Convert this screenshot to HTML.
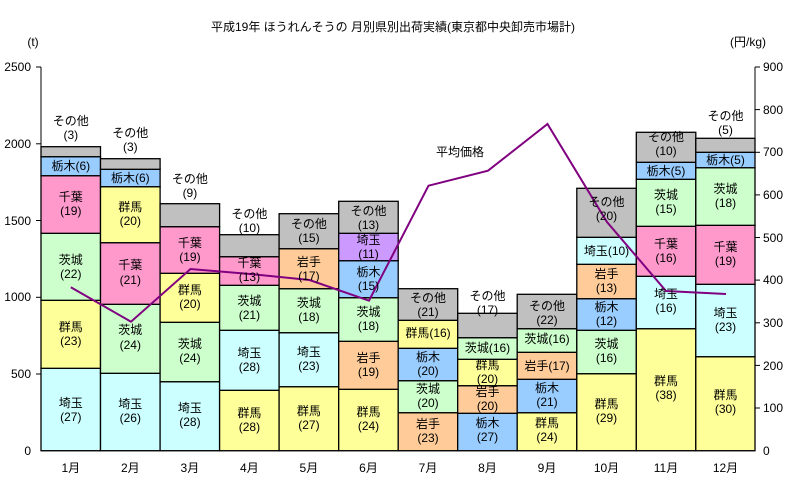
<!DOCTYPE html><html><head><meta charset="utf-8"><style>html,body{margin:0;padding:0;background:#fff}svg{display:block}text{font-family:"Liberation Sans","Noto Sans CJK JP",sans-serif;font-size:12px;fill:#000}</style></head><body>
<svg width="791" height="487" viewBox="0 0 791 487" xmlns="http://www.w3.org/2000/svg">
<text x="393" y="31" text-anchor="middle" font-size="13">平成19年  ほうれんそうの 月別県別出荷実績(東京都中央卸売市場計)</text>
<text x="33" y="46" text-anchor="middle" font-size="11">(t)</text>
<text x="748" y="46" text-anchor="middle" font-size="11">(円/kg)</text>
<g font-size="11" text-anchor="end">
<text x="31" y="455">0</text><text x="31" y="378">500</text><text x="31" y="301">1000</text><text x="31" y="225">1500</text><text x="31" y="148">2000</text><text x="31" y="71">2500</text></g>
<g font-size="11">
<text x="763" y="455">0</text><text x="763" y="412">100</text><text x="763" y="370">200</text><text x="763" y="327">300</text><text x="763" y="284">400</text><text x="763" y="242">500</text><text x="763" y="199">600</text><text x="763" y="156">700</text><text x="763" y="114">800</text><text x="763" y="71">900</text></g>
<g stroke="#000" stroke-width="1">
<line x1="41" y1="67" x2="41" y2="451"/><line x1="755" y1="67" x2="755" y2="451"/><line x1="41" y1="450.7" x2="755" y2="450.7"/>
<line x1="36" y1="67" x2="41" y2="67"/><line x1="36" y1="143.8" x2="41" y2="143.8"/><line x1="36" y1="220.5" x2="41" y2="220.5"/><line x1="36" y1="297.3" x2="41" y2="297.3"/><line x1="36" y1="374" x2="41" y2="374"/>
<line x1="755" y1="67" x2="760" y2="67"/><line x1="755" y1="109.6" x2="760" y2="109.6"/><line x1="755" y1="152.3" x2="760" y2="152.3"/><line x1="755" y1="194.9" x2="760" y2="194.9"/><line x1="755" y1="237.5" x2="760" y2="237.5"/><line x1="755" y1="280.1" x2="760" y2="280.1"/><line x1="755" y1="322.8" x2="760" y2="322.8"/><line x1="755" y1="365.4" x2="760" y2="365.4"/><line x1="755" y1="408" x2="760" y2="408"/>
</g>
<g stroke="#000" stroke-width="1.3">
<rect x="41" y="368.3" width="59.5" height="82.4" fill="#ccffff"/><rect x="41" y="300.3" width="59.5" height="68" fill="#ffff99"/><rect x="41" y="233.3" width="59.5" height="67" fill="#ccffcc"/><rect x="41" y="175.7" width="59.5" height="57.6" fill="#ff99cc"/><rect x="41" y="156.7" width="59.5" height="19" fill="#99ccff"/><rect x="41" y="146.7" width="59.5" height="10" fill="#c0c0c0"/>
<rect x="100.5" y="373.3" width="59.6" height="77.4" fill="#ccffff"/><rect x="100.5" y="304.3" width="59.6" height="69" fill="#ccffcc"/><rect x="100.5" y="242.7" width="59.6" height="61.6" fill="#ff99cc"/><rect x="100.5" y="186.7" width="59.6" height="56" fill="#ffff99"/><rect x="100.5" y="169.3" width="59.6" height="17.4" fill="#99ccff"/><rect x="100.5" y="158.7" width="59.6" height="10.6" fill="#c0c0c0"/>
<rect x="160.1" y="381.7" width="59.5" height="69" fill="#ccffff"/><rect x="160.1" y="322.3" width="59.5" height="59.4" fill="#ccffcc"/><rect x="160.1" y="273.3" width="59.5" height="49" fill="#ffff99"/><rect x="160.1" y="226.7" width="59.5" height="46.6" fill="#ff99cc"/><rect x="160.1" y="203.7" width="59.5" height="23" fill="#c0c0c0"/>
<rect x="219.6" y="390.3" width="59.5" height="60.4" fill="#ffff99"/><rect x="219.6" y="330.3" width="59.5" height="60" fill="#ccffff"/><rect x="219.6" y="285.3" width="59.5" height="45" fill="#ccffcc"/><rect x="219.6" y="256.7" width="59.5" height="28.6" fill="#ff99cc"/><rect x="219.6" y="234.7" width="59.5" height="22" fill="#c0c0c0"/>
<rect x="279.1" y="386.7" width="59.6" height="64" fill="#ffff99"/><rect x="279.1" y="332.7" width="59.6" height="54" fill="#ccffff"/><rect x="279.1" y="288.7" width="59.6" height="44" fill="#ccffcc"/><rect x="279.1" y="248.7" width="59.6" height="40" fill="#ffcc99"/><rect x="279.1" y="213.7" width="59.6" height="35" fill="#c0c0c0"/>
<rect x="338.7" y="389.3" width="59.5" height="61.4" fill="#ffff99"/><rect x="338.7" y="341.3" width="59.5" height="48" fill="#ffcc99"/><rect x="338.7" y="297.7" width="59.5" height="43.6" fill="#ccffcc"/><rect x="338.7" y="260.7" width="59.5" height="37" fill="#99ccff"/><rect x="338.7" y="233.3" width="59.5" height="27.4" fill="#cc99ff"/><rect x="338.7" y="201.3" width="59.5" height="32" fill="#c0c0c0"/>
<rect x="398.2" y="412.7" width="59.5" height="38" fill="#ffcc99"/><rect x="398.2" y="380.7" width="59.5" height="32" fill="#ccffcc"/><rect x="398.2" y="348.3" width="59.5" height="32.4" fill="#99ccff"/><rect x="398.2" y="320.3" width="59.5" height="28" fill="#ffff99"/><rect x="398.2" y="288.7" width="59.5" height="31.6" fill="#c0c0c0"/>
<rect x="457.7" y="413.3" width="59.5" height="37.4" fill="#99ccff"/><rect x="457.7" y="385.7" width="59.5" height="27.6" fill="#ffcc99"/><rect x="457.7" y="359.3" width="59.5" height="26.4" fill="#ffff99"/><rect x="457.7" y="337.7" width="59.5" height="21.6" fill="#ccffcc"/><rect x="457.7" y="313.3" width="59.5" height="24.4" fill="#c0c0c0"/>
<rect x="517.2" y="412.7" width="59.6" height="38" fill="#ffff99"/><rect x="517.2" y="379.3" width="59.6" height="33.4" fill="#99ccff"/><rect x="517.2" y="352.3" width="59.6" height="27" fill="#ffcc99"/><rect x="517.2" y="328.7" width="59.6" height="23.6" fill="#ccffcc"/><rect x="517.2" y="294.3" width="59.6" height="34.4" fill="#c0c0c0"/>
<rect x="576.8" y="373.7" width="59.5" height="77" fill="#ffff99"/><rect x="576.8" y="330.3" width="59.5" height="43.4" fill="#ccffcc"/><rect x="576.8" y="298.7" width="59.5" height="31.6" fill="#99ccff"/><rect x="576.8" y="264.3" width="59.5" height="34.4" fill="#ffcc99"/><rect x="576.8" y="237.3" width="59.5" height="27" fill="#ccffff"/><rect x="576.8" y="188.3" width="59.5" height="49" fill="#c0c0c0"/>
<rect x="636.3" y="328.7" width="59.5" height="122" fill="#ffff99"/><rect x="636.3" y="276.3" width="59.5" height="52.4" fill="#ccffff"/><rect x="636.3" y="226.3" width="59.5" height="50" fill="#ff99cc"/><rect x="636.3" y="179.3" width="59.5" height="47" fill="#ccffcc"/><rect x="636.3" y="162.3" width="59.5" height="17" fill="#99ccff"/><rect x="636.3" y="132.3" width="59.5" height="30" fill="#c0c0c0"/>
<rect x="695.8" y="356.7" width="59.2" height="94" fill="#ffff99"/><rect x="695.8" y="284.3" width="59.2" height="72.4" fill="#ccffff"/><rect x="695.8" y="225.3" width="59.2" height="59" fill="#ff99cc"/><rect x="695.8" y="167.7" width="59.2" height="57.6" fill="#ccffcc"/><rect x="695.8" y="152.3" width="59.2" height="15.4" fill="#99ccff"/><rect x="695.8" y="138.3" width="59.2" height="14" fill="#c0c0c0"/>
</g>
<polyline fill="none" stroke="#800080" stroke-width="2" points="70.8,287.3 131,321.7 190.5,269 250,274 309.5,280 369,300.7 428.5,185.7 488,170.7 547.5,124 607,222 666,291 726,294"/>
<g text-anchor="middle" dominant-baseline="central">
<text x="70.8" y="121">その他</text><text x="70.8" y="135">(3)</text>
<text x="70.8" y="166">栃木(6)</text>
<text x="70.8" y="197">千葉</text><text x="70.8" y="211">(19)</text>
<text x="70.8" y="260">茨城</text><text x="70.8" y="274">(22)</text>
<text x="70.8" y="327">群馬</text><text x="70.8" y="341">(23)</text>
<text x="70.8" y="403">埼玉</text><text x="70.8" y="417">(27)</text>
<text x="130.3" y="133">その他</text><text x="130.3" y="147">(3)</text>
<text x="130.3" y="178">栃木(6)</text>
<text x="130.3" y="207">群馬</text><text x="130.3" y="221">(20)</text>
<text x="130.3" y="265">千葉</text><text x="130.3" y="280">(21)</text>
<text x="130.3" y="330">茨城</text><text x="130.3" y="345">(24)</text>
<text x="130.3" y="404">埼玉</text><text x="130.3" y="418">(26)</text>
<text x="189.9" y="179">その他</text><text x="189.9" y="193">(9)</text>
<text x="189.9" y="243">千葉</text><text x="189.9" y="257">(19)</text>
<text x="189.9" y="290">群馬</text><text x="189.9" y="304">(20)</text>
<text x="189.9" y="344">茨城</text><text x="189.9" y="358">(24)</text>
<text x="189.9" y="408">埼玉</text><text x="189.9" y="422">(28)</text>
<text x="249.4" y="214">その他</text><text x="249.4" y="228">(10)</text>
<text x="249.4" y="263">千葉</text><text x="249.4" y="277">(13)</text>
<text x="249.4" y="301">茨城</text><text x="249.4" y="315">(21)</text>
<text x="249.4" y="353">埼玉</text><text x="249.4" y="367">(28)</text>
<text x="249.4" y="413">群馬</text><text x="249.4" y="427">(28)</text>
<text x="308.9" y="224">その他</text><text x="308.9" y="238">(15)</text>
<text x="308.9" y="262">岩手</text><text x="308.9" y="276">(17)</text>
<text x="308.9" y="303">茨城</text><text x="308.9" y="317">(18)</text>
<text x="308.9" y="352">埼玉</text><text x="308.9" y="366">(23)</text>
<text x="308.9" y="411">群馬</text><text x="308.9" y="425">(27)</text>
<text x="368.5" y="211">その他</text><text x="368.5" y="225">(13)</text>
<text x="368.5" y="240">埼玉</text><text x="368.5" y="254">(11)</text>
<text x="368.5" y="272">栃木</text><text x="368.5" y="286">(15)</text>
<text x="368.5" y="312">茨城</text><text x="368.5" y="326">(18)</text>
<text x="368.5" y="358">岩手</text><text x="368.5" y="372">(19)</text>
<text x="368.5" y="412">群馬</text><text x="368.5" y="426">(24)</text>
<text x="428" y="298">その他</text><text x="428" y="312">(21)</text>
<text x="428" y="333">群馬(16)</text>
<text x="428" y="357">栃木</text><text x="428" y="371">(20)</text>
<text x="428" y="389">茨城</text><text x="428" y="403">(20)</text>
<text x="428" y="424">岩手</text><text x="428" y="438">(23)</text>
<text x="487.5" y="296">その他</text><text x="487.5" y="310">(17)</text>
<text x="487.5" y="348">茨城(16)</text>
<text x="487.5" y="365">群馬</text><text x="487.5" y="379">(20)</text>
<text x="487.5" y="392">岩手</text><text x="487.5" y="406">(20)</text>
<text x="487.5" y="423">栃木</text><text x="487.5" y="437">(27)</text>
<text x="547" y="306">その他</text><text x="547" y="320">(22)</text>
<text x="547" y="339">茨城(16)</text>
<text x="547" y="366">岩手(17)</text>
<text x="547" y="388">栃木</text><text x="547" y="402">(21)</text>
<text x="547" y="423">群馬</text><text x="547" y="437">(24)</text>
<text x="606.5" y="202">その他</text><text x="606.5" y="216">(20)</text>
<text x="606.5" y="251">埼玉(10)</text>
<text x="606.5" y="274">岩手</text><text x="606.5" y="288">(13)</text>
<text x="606.5" y="307">栃木</text><text x="606.5" y="321">(12)</text>
<text x="606.5" y="344">茨城</text><text x="606.5" y="358">(16)</text>
<text x="606.5" y="404">群馬</text><text x="606.5" y="418">(29)</text>
<text x="666" y="137">その他</text><text x="666" y="151">(10)</text>
<text x="666" y="171">栃木(5)</text>
<text x="666" y="195">茨城</text><text x="666" y="209">(15)</text>
<text x="666" y="244">千葉</text><text x="666" y="258">(16)</text>
<text x="666" y="294">埼玉</text><text x="666" y="308">(16)</text>
<text x="666" y="381">群馬</text><text x="666" y="395">(38)</text>
<text x="725.5" y="116">その他</text><text x="725.5" y="130">(5)</text>
<text x="725.5" y="160">栃木(5)</text>
<text x="725.5" y="189">茨城</text><text x="725.5" y="203">(18)</text>
<text x="725.5" y="247">千葉</text><text x="725.5" y="261">(19)</text>
<text x="725.5" y="313">埼玉</text><text x="725.5" y="327">(23)</text>
<text x="725.5" y="395">群馬</text><text x="725.5" y="409">(30)</text>
<text x="460" y="152">平均価格</text>
</g>
<g text-anchor="middle" font-size="12">
<text x="70.8" y="472">1月</text><text x="130.3" y="472">2月</text><text x="189.9" y="472">3月</text><text x="249.4" y="472">4月</text><text x="308.9" y="472">5月</text><text x="368.5" y="472">6月</text><text x="428" y="472">7月</text><text x="487.5" y="472">8月</text><text x="547" y="472">9月</text><text x="606.5" y="472">10月</text><text x="666" y="472">11月</text><text x="725.5" y="472">12月</text>
</g>
</svg></body></html>
